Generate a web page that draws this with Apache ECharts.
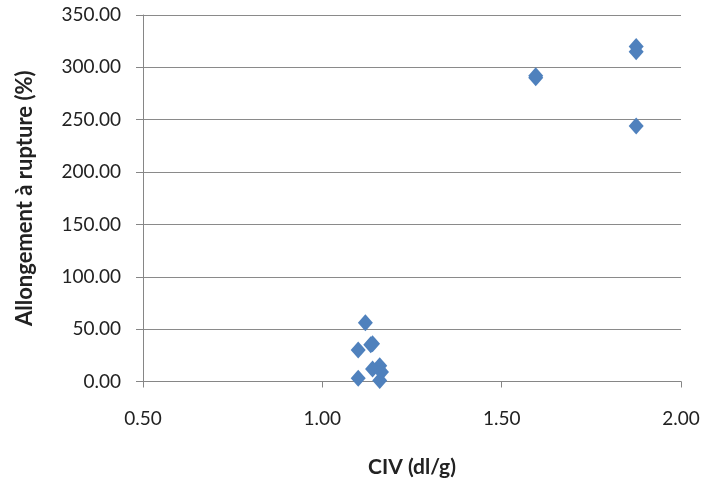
<!DOCTYPE html>
<html><head><meta charset="utf-8">
<script src="https://cdn.jsdelivr.net/npm/echarts@6/dist/echarts.min.js"></script>
<style>html,body{margin:0;padding:0;background:#fff}#c{width:703px;height:481px}</style>
</head><body><div id="c"></div>
<script>
const civ = [1.10, 1.16, 1.12, 1.10, 1.135, 1.14, 1.16, 1.14, 1.165, 1.595, 1.595, 1.875, 1.875, 1.875];
const allongement = [3, 1, 56, 30, 35, 36, 15, 12, 9, 290, 292, 320, 315, 244];
const xTicks = [0.5, 1.0, 1.5, 2.0];
const yTicks = [0, 50, 100, 150, 200, 250, 300, 350];
const xTitle = 'CIV (dl/g)';
const yTitle = 'Allongement à rupture (%)';

const font = 'Lato, "Open Sans", sans-serif';
const chart = echarts.init(document.getElementById('c'));
chart.setOption({
  animation: false,
  backgroundColor: '#fff',
  grid: {left: 143, right: 22, top: 15, bottom: 99.5, outerBoundsMode: 'none', containLabel: false},
  xAxis: {
    type: 'value', min: xTicks[0], max: xTicks[xTicks.length-1], interval: 0.5,
    name: xTitle, nameLocation: 'middle', nameGap: 75,
    nameTextStyle: {fontFamily: font, fontWeight: 'bold', fontSize: 21, color: '#222'},
    axisLine: {show: true, onZero: false, lineStyle: {color: '#868686'}},
    axisTick: {show: true, length: 6, lineStyle: {color: '#868686'}},
    axisLabel: {margin: 28, fontFamily: font, fontSize: 19, color: '#222', formatter: v => v.toFixed(2)},
    splitLine: {show: false}
  },
  yAxis: {
    type: 'value', min: yTicks[0], max: yTicks[yTicks.length-1], interval: 50,
    name: yTitle, nameLocation: 'middle', nameGap: 107,
    nameTextStyle: {fontFamily: font, fontWeight: 'bold', fontSize: 22, color: '#222'},
    axisLine: {show: true, lineStyle: {color: '#868686'}},
    axisTick: {show: true, length: 7, lineStyle: {color: '#868686'}},
    axisLabel: {margin: 22, fontFamily: font, fontSize: 19, color: '#222', formatter: v => v.toFixed(2)},
    splitLine: {show: true, lineStyle: {color: '#8a8a8a', width: 1}}
  },
  series: [{
    type: 'scatter',
    symbol: 'diamond',
    symbolSize: [15, 17],
    itemStyle: {color: '#4F81BD', opacity: 1},
    data: civ.map((x, i) => [x, allongement[i]])
  }]
});
</script></body></html>
